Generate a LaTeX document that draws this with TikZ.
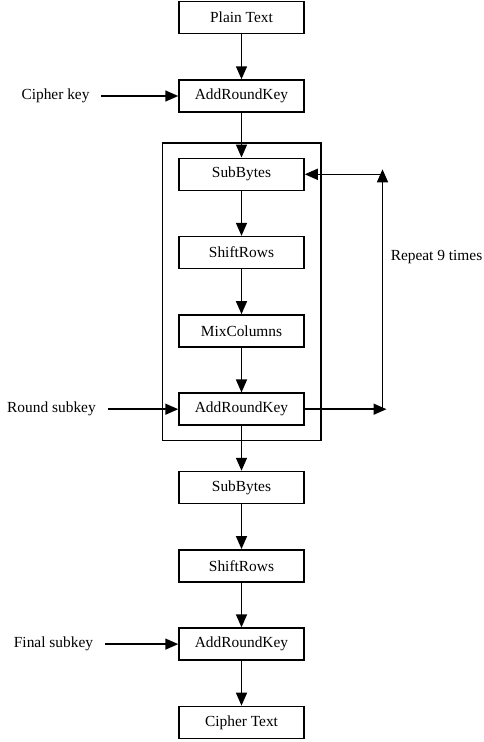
\documentclass[tikz,border=0pt]{standalone}
\usepackage{fontspec}
\setmainfont{Liberation Serif}
\usepackage{tikz}
\usetikzlibrary{arrows.meta,positioning,fit}

\begin{document}
\begin{tikzpicture}[->,>={Triangle[length=13pt,width=11pt]},line width=1.5pt,
		x=1pt,y=-1pt,node distance=78.3pt,
		font=\fontsize{15.4}{18}\selectfont]
		\tikzstyle{block}=[draw=black,rectangle,minimum width=125pt,minimum height=32pt,inner sep=0pt]
		\tikzstyle{keylabel}=[inner xsep=11pt,inner ysep=0pt]
		
		\useasboundingbox (0,0) rectangle (483,742);
		
		\node[block] (pt) at (241.5,17.7) {Plain Text};
		\node[block] (ark1) [below of=pt]   {AddRoundKey};
		\node[block] (sb1)  [below of=ark1] {SubBytes};
		\node[block] (sr1)  [below of=sb1]  {ShiftRows};
		\node[block] (mc)   [below of=sr1]  {MixColumns};
		\node[block] (ark2) [below of=mc]   {AddRoundKey};
		\node[block] (sb2)  [below of=ark2] {SubBytes};
		\node[block] (sr2)  [below of=sb2]  {ShiftRows};
		\node[block] (ark3) [below of=sr2]  {AddRoundKey};
		\node[block] (ct)   [below of=ark3] {Cipher Text};
		
		% round frame
		\node[draw=black,fit=(sb1)(ark2),inner xsep=16pt,inner ysep=14.5pt] (rnd) {};
		
		\node[keylabel] (ck) [left of=ark1,node distance=186pt] {Cipher key};
		\node[keylabel] (rs) [left of=ark2,node distance=190pt] {Round subkey};
		\node[keylabel] (fs) [left of=ark3,node distance=188pt] {Final subkey};
		
		\node[coordinate] (lpc) [right of=ark2,node distance=141pt] {};
		\node[coordinate] (lpb) [right of=ark2,node distance=145pt] {};
		\node[coordinate] (lpm) [right of=sb1,node distance=141pt] {};
		\node[coordinate] (lpt) [right of=sb1,node distance=141pt,yshift=5pt] {};
		\node[anchor=west,inner sep=0pt] (rep) at (390,257) {Repeat 9 times};
		
		\path
		(pt) edge (ark1)
		(ark1) edge (sb1)
		(sb1) edge (sr1)
		(sr1) edge (mc)
		(mc) edge (ark2)
		(ark2) edge (sb2)
		(sb2) edge (sr2)
		(sr2) edge (ark3)
		(ark3) edge (ct);
		
		\path
		(ck) edge (ark1)
		(rs) edge (ark2)
		(fs) edge (ark3);
		
		\draw (ark2) -- (lpb);
		\draw (lpc) -- (lpt);
		\draw (lpm) -- (sb1);
\end{tikzpicture}
\end{document}
